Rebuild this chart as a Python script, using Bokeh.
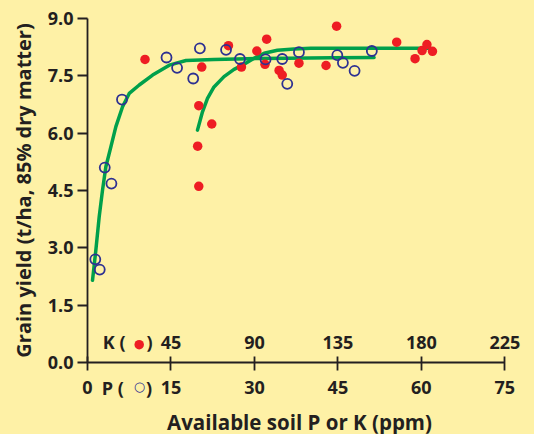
from bokeh.plotting import figure
from bokeh.models import Range1d, FixedTicker, PrintfTickFormatter, GlobalInlineStyleSheet
from bokeh.core.properties import value
from bokeh.embed import file_html
from bokeh.resources import INLINE

# ---- data ----
# P (open blue circles): soil P (ppm) vs grain yield (t/ha)
p_ppm = [1.4, 2.2, 3.1, 4.3, 6.2, 14.2, 16.1, 19.0, 20.2, 24.9, 27.4, 32.0, 35.0, 35.9, 38.0, 44.9, 45.9, 48.0, 51.1]
p_yield = [2.70, 2.43, 5.10, 4.68, 6.88, 7.98, 7.71, 7.43, 8.22, 8.18, 7.94, 7.93, 7.94, 7.29, 8.12, 8.04, 7.84, 7.63, 8.15]

# K (solid red dots): soil K (ppm) vs grain yield (t/ha)
k_ppm = [31, 59.4, 60, 60, 61.6, 67, 76, 83, 91.3, 95.7, 96.6, 103.3, 105, 114, 128.6, 134.3, 166.7, 176.6, 180.4, 183, 186]
k_yield = [7.93, 5.66, 4.61, 6.72, 7.73, 6.24, 8.29, 7.73, 8.15, 7.80, 8.46, 7.64, 7.52, 7.83, 7.77, 8.80, 8.38, 7.95, 8.16, 8.32, 8.14]

# fitted response curves
p_fit_ppm = [0.9, 1.5, 2.1, 2.7, 3.3, 4.2, 5.1, 6.3, 7.5, 9.3, 11.7, 14.7, 17.7, 22.7, 28.7, 36.0, 44.0, 51.5]
p_fit_yield = [2.15, 2.94, 3.81, 4.51, 5.12, 5.64, 6.17, 6.69, 7.04, 7.26, 7.52, 7.78, 7.90, 7.93, 7.95, 7.96, 7.97, 7.98]
k_fit_ppm = [59.3, 62.0, 64.7, 68.2, 73.6, 79.0, 84.4, 89.8, 95.2, 102.4, 111.4, 120.4, 131.0, 150.0, 170.0, 185.0]
k_fit_yield = [6.08, 6.56, 6.91, 7.21, 7.48, 7.67, 7.80, 7.96, 8.09, 8.17, 8.20, 8.22, 8.22, 8.22, 8.22, 8.22]

# ticks
p_ticks = [0, 15, 30, 45, 60, 75]
k_ticks = [45, 90, 135, 180, 225]
k_tick_labels = ["45", "90", "135", "180", "225"]
y_ticks = [0.0, 1.5, 3.0, 4.5, 6.0, 7.5, 9.0]

# ---- style ----
BG = "#FEF1A6"
INK = "#231F20"
GREEN = "#00A04B"
RED = "#EE1D23"
BLUE = "#2E3192"
FONT = "Open Sans"

P_END = 76.2  # P range end

p = figure(width=534, height=450,
           x_range=Range1d(0, P_END), y_range=Range1d(0, 9),
           output_backend="svg", toolbar_location=None,
           min_border_left=87, min_border_right=23, min_border_top=18, min_border_bottom=88,
           background_fill_color=BG, border_fill_color=BG, outline_line_color=None)
p.stylesheets = [GlobalInlineStyleSheet(css="html,body{margin:0;padding:0;background:%s;overflow:hidden;}" % BG)]
p.extra_x_ranges = {"K": Range1d(0, P_END * 3)}

p.xgrid.visible = False
p.ygrid.visible = False

# x axis (P)
xa = p.xaxis[0]
xa.ticker = FixedTicker(ticks=p_ticks)
xa.formatter = PrintfTickFormatter(format="%d")
xa.bounds = (0, 75)
xa.major_tick_in = 6
xa.major_tick_out = 8
xa.minor_tick_line_color = None
xa.axis_line_color = INK
xa.axis_line_width = 1.8
xa.major_tick_line_color = INK
xa.major_tick_line_width = 1.8
xa.major_label_text_font = FONT
xa.major_label_text_font_style = "bold"
xa.major_label_text_font_size = "18px"
xa.major_label_text_color = INK
xa.major_label_standoff = 10
xa.axis_label = "Available soil P or K (ppm)"
xa.axis_label_text_font = FONT
xa.axis_label_text_font_style = "bold"
xa.axis_label_text_font_size = "20.5px"
xa.axis_label_text_color = INK
xa.axis_label_standoff = 11

# y axis
ya = p.yaxis[0]
ya.ticker = FixedTicker(ticks=y_ticks)
ya.formatter = PrintfTickFormatter(format="%.1f")
ya.bounds = (0, 9)
ya.major_tick_in = 0
ya.major_tick_out = 10
ya.minor_tick_line_color = None
ya.axis_line_color = INK
ya.axis_line_width = 1.8
ya.major_tick_line_color = INK
ya.major_tick_line_width = 1.8
ya.major_label_text_font = FONT
ya.major_label_text_font_style = "bold"
ya.major_label_text_font_size = "18px"
ya.major_label_text_color = INK
ya.major_label_standoff = 4
ya.axis_label = "Grain yield (t/ha, 85% dry matter)"
ya.axis_label_text_font = FONT
ya.axis_label_text_font_style = "bold"
ya.axis_label_text_font_size = "20px"
ya.axis_label_text_color = INK
ya.axis_label_standoff = 8

# curves
p.line(p_fit_ppm, p_fit_yield, line_color=GREEN, line_width=3.5, line_join="round", line_cap="round")
p.line(k_fit_ppm, k_fit_yield, x_range_name="K", line_color=GREEN, line_width=3.5,
       line_join="round", line_cap="round")

# points
p.scatter(k_ppm, k_yield, x_range_name="K", marker="circle", size=9.5,
          fill_color=RED, line_color=None)
p.scatter(p_ppm, p_yield, marker="circle", size=10, fill_color=None,
          line_color=BLUE, line_width=1.8)

# K scale labels (drawn just above the axis line)
K_ROW = 0.53
P_ROW = -0.673
p.text(x=k_ticks, y=[K_ROW] * len(k_ticks), text=k_tick_labels, x_range_name="K",
       text_align="center", text_baseline="middle", text_font=value(FONT),
       text_font_style="bold", text_font_size="18px", text_color=INK, level="annotation")

def txt(x, y, s, color=INK, font=FONT, size="18px", align="left", style="bold"):
    p.text(x=[x], y=[y], text=[s], text_align=align, text_baseline="middle",
           text_font=value(font), text_font_style=style, text_font_size=size,
           text_color=color, level="annotation")

# "K ( ● )" and "P ( ○ )" keys
txt(2.75, K_ROW, "K (")
p.scatter([9.29], [0.466], marker="circle", size=9.5, fill_color=RED, line_color=None, level="annotation")
txt(10.6, K_ROW, ")")
txt(2.57, P_ROW, "P (")
txt(9.35, -0.64, "\u25CB", color=BLUE, font="DejaVu Sans", size="13px", align="center", style="bold")
txt(10.5, P_ROW, ")")

open("out.html", "w").write(file_html(p, INLINE))
